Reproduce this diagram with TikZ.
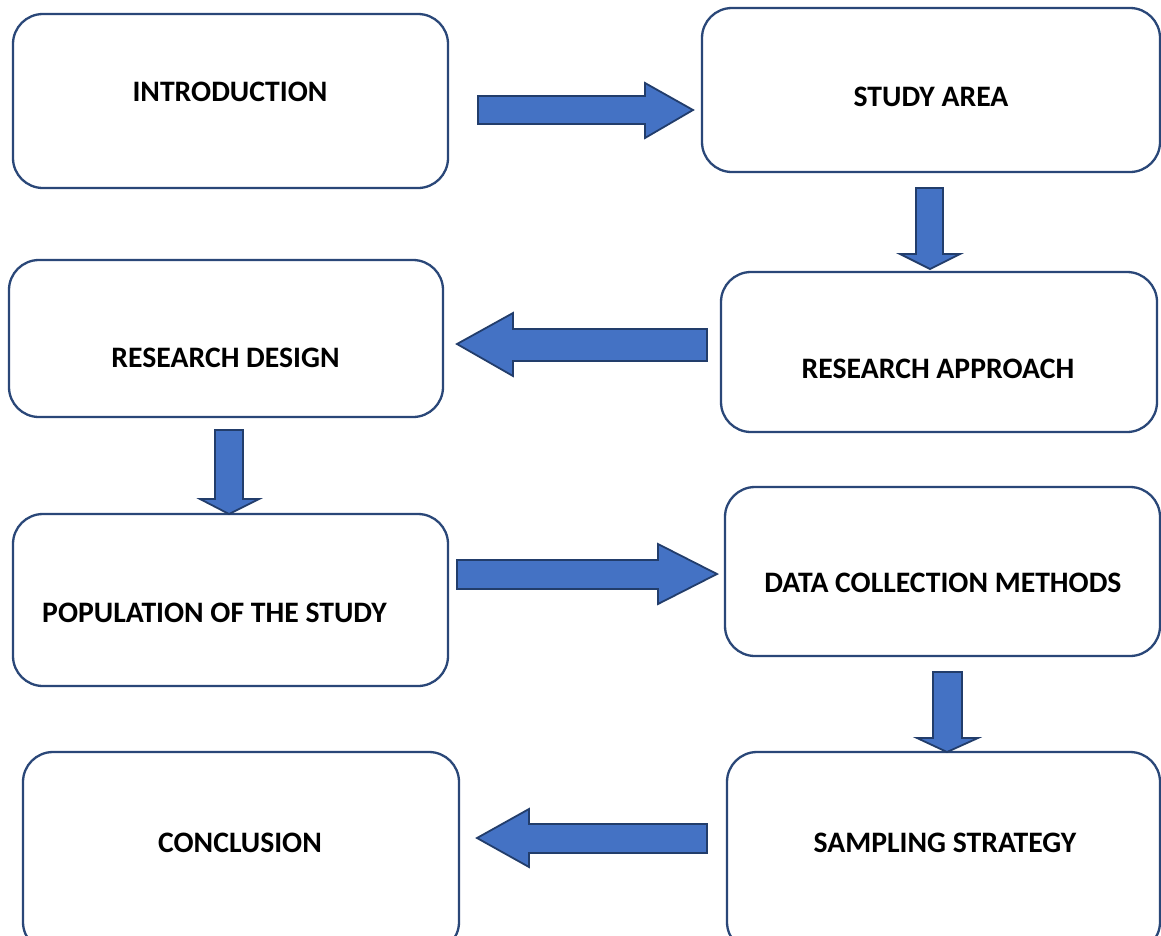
\documentclass[tikz,border=0pt]{standalone}
\usepackage{fontspec}
\setmainfont{Carlito}
\begin{document}
\begin{tikzpicture}[x=1pt, y=-1pt,
  stage/.style={draw=boxblue, line width=2.3pt, rounded corners=30pt, fill=white,
                inner sep=0pt, outer sep=0pt},
  label/.style={font=\bfseries\fontsize{29.7}{34}\selectfont, anchor=base, inner sep=0pt},
  blockarrow/.style={draw=arrowedge, fill=arrowfill, line width=1.8pt, line join=miter}]
\definecolor{boxblue}{HTML}{2A4778}
\definecolor{arrowfill}{HTML}{4472C4}
\definecolor{arrowedge}{HTML}{223D6B}
\useasboundingbox (0,0) rectangle (1161,935);
\clip (0,0) rectangle (1161,935);
\fill[white] (0,0) rectangle (1161,935);

% stage boxes
\node[stage, minimum width=435pt, minimum height=174pt] (intro)  at (230.5,101) {};
\node[stage, minimum width=458pt, minimum height=164pt] (area)   at (931,90) {};
\node[stage, minimum width=436pt, minimum height=160pt] (approach) at (939,352) {};
\node[stage, minimum width=434pt, minimum height=157pt] (design) at (226,338.5) {};
\node[stage, minimum width=435pt, minimum height=172pt] (pop)    at (230.5,600) {};
\node[stage, minimum width=435pt, minimum height=169pt] (data)   at (942.5,571.5) {};
\node[stage, minimum width=433pt, minimum height=200pt] (samp)   at (943.5,852) {};
\node[stage, minimum width=436pt, minimum height=200pt] (concl)  at (241,852) {};

% stage titles
\node[label] (introT)    at (230,101)   {INTRODUCTION};
\node[label] (areaT)     at (931,106.5) {STUDY AREA};
\node[label] (approachT) at (938,378.5) {RESEARCH APPROACH};
\node[label] (designT)   at (225.5,367) {RESEARCH DESIGN};
\node[label] (popT)      at (214.5,622) {POPULATION OF THE STUDY};
\node[label] (dataT)     at (943,592.5) {DATA COLLECTION METHODS};
\node[label] (sampT)     at (945,852)   {SAMPLING STRATEGY};
\node[label] (conclT)    at (240,852)   {CONCLUSION};

% block arrows between stages
% introduction -> study area
\draw[blockarrow] (478,96) -- (645,96) -- (645,83) -- (693,110) -- (645,138) -- (645,124) -- (478,124) -- cycle;
% study area -> research approach
\draw[blockarrow] (916,188) -- (943,188) -- (943,254) -- (960,254) -- (930,269) -- (900,254) -- (916,254) -- cycle;
% research approach -> research design
\draw[blockarrow] (707,329) -- (513,329) -- (513,313) -- (457,344) -- (513,376) -- (513,361) -- (707,361) -- cycle;
% research design -> population
\draw[blockarrow] (215,430) -- (243,430) -- (243,499) -- (259,499) -- (229,514) -- (200,499) -- (215,499) -- cycle;
% population -> data collection
\draw[blockarrow] (457,560) -- (658,560) -- (658,544) -- (717,574) -- (658,604) -- (658,589) -- (457,589) -- cycle;
% data collection -> sampling strategy
\draw[blockarrow] (933,672) -- (962,672) -- (962,738) -- (978,738) -- (947,752) -- (917,738) -- (933,738) -- cycle;
% sampling strategy -> conclusion
\draw[blockarrow] (707,824) -- (529,824) -- (529,809) -- (477,838) -- (529,867) -- (529,853) -- (707,853) -- cycle;
\end{tikzpicture}
\end{document}
